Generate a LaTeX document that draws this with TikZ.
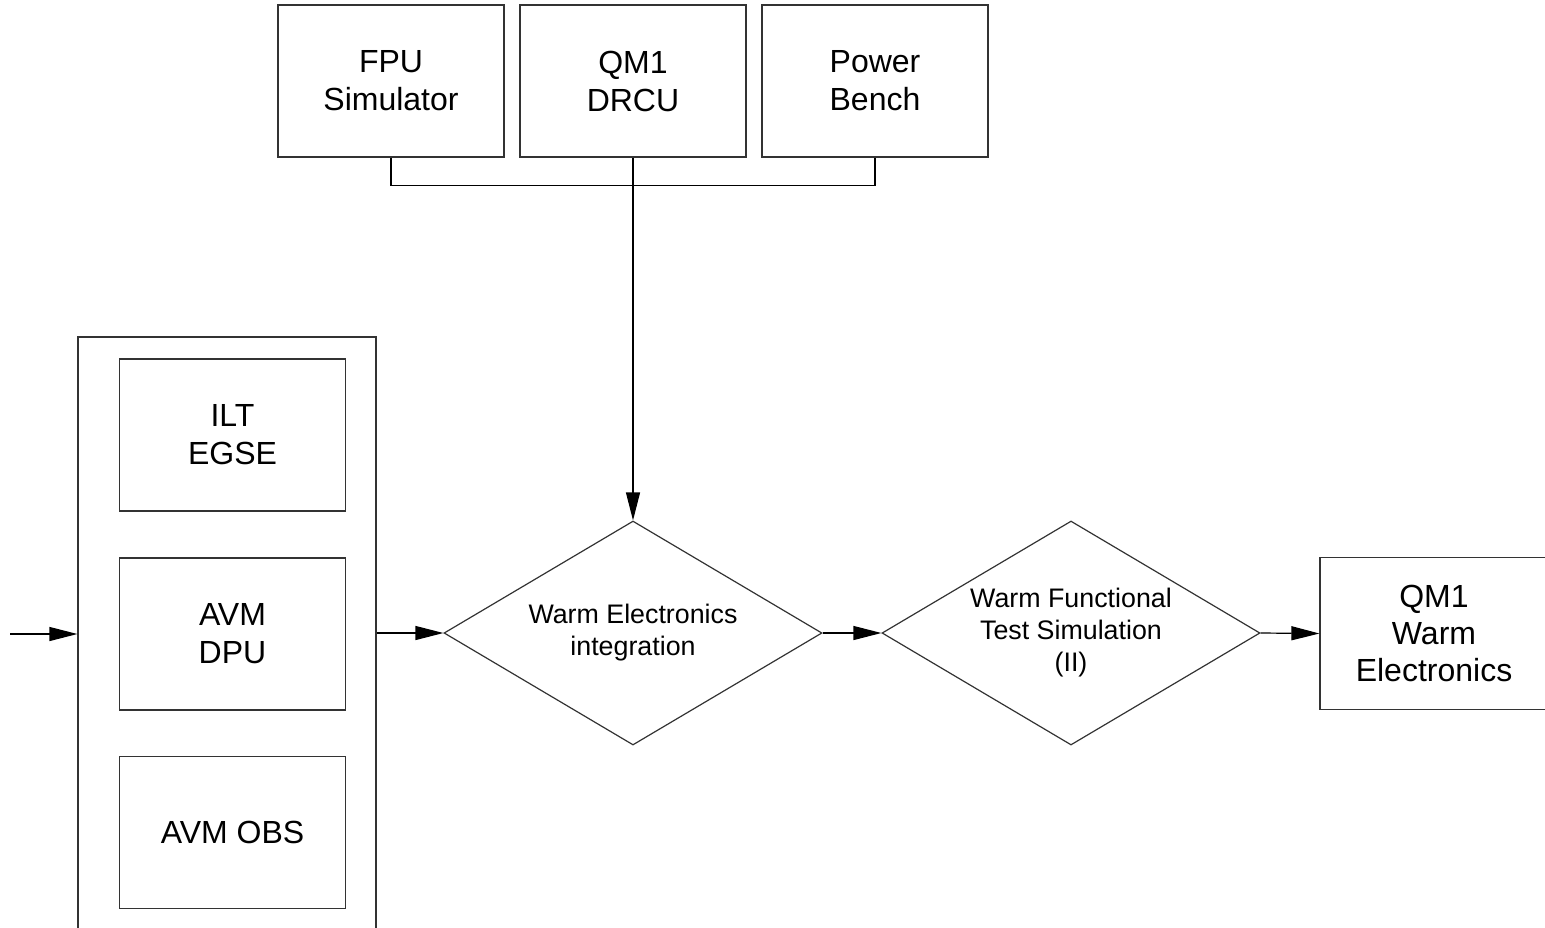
\documentclass[tikz,border=0pt]{standalone}
\usepackage{fontspec}
\setmainfont{Liberation Sans}
\usetikzlibrary{shapes.geometric,arrows.meta}

\begin{document}
\begin{tikzpicture}[x=0.5pt,y=-0.5pt,
  box/.style={draw=black!80,line width=0.6pt,minimum width=113pt,minimum height=76pt,inner sep=0pt,align=center,font=\fontsize{16}{19}\selectfont},
  dia/.style={diamond,aspect=1.69,draw=black!80,line width=0.6pt,minimum width=189pt,minimum height=112pt,inner sep=0pt,align=center,font=\fontsize{13.4}{16}\selectfont},
  arr/.style={-{Triangle[length=14pt,width=7pt]},line width=0.6pt}]
\useasboundingbox (0,0) rectangle (1545,927);
\clip (0,0) rectangle (1545,927);
% test equipment
\node[box] (fpu) at (391,81) {FPU\\Simulator};
\node[box] (drcu) at (633,81) {QM1\\DRCU};
\node[box] (bench) at (875,81) {Power\\Bench};
% rack with the AVM units
\node[draw=black!80,line width=0.6pt,minimum width=149pt,minimum height=320pt,inner sep=0pt] (rack) at (227,657) {};
\node[box] (ilt) at (232.5,435) {ILT\\EGSE};
\node[box] (dpu) at (232.5,634) {AVM\\DPU};
\node[box] (obs) at (232.5,832.5) {AVM OBS};
\coordinate (in) at (10,634);
% steps
\node[dia] (integ) at (633,633) {Warm Electronics\\integration};
\node[dia] (sim) at (1071,633) {Warm Functional\\Test Simulation\\(II)};
\node[box,minimum width=114pt,font=\fontsize{16}{18.5}\selectfont] (qm) at (1434,633.5) {QM1\\Warm\\Electronics};

\draw[line width=0.6pt] (fpu.south) -- ++(0,28) -| (bench.south);
\draw[arr] (drcu.south) -- (integ.north);
\draw[arr] (in) -- (rack.west |- in);
\draw[arr] (rack.east |- integ) -- (integ.west);
\draw[arr] (integ.east) -- (sim.west);
\draw[arr] (sim.east) -- (qm.west);
\end{tikzpicture}
\end{document}
